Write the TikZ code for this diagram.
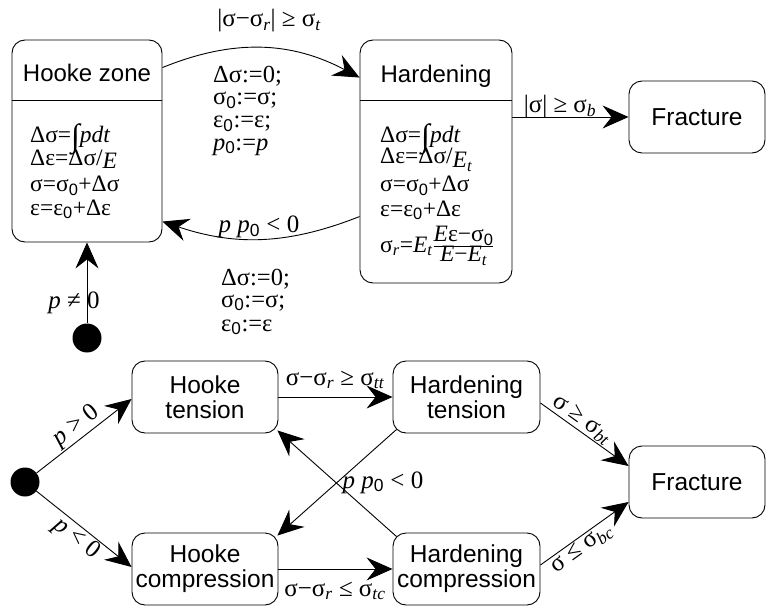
\documentclass[tikz,border=0pt]{standalone}
\usepackage{fontspec}
\setmainfont{Liberation Sans}
\newfontfamily\tm{Liberation Serif}
\usetikzlibrary{arrows.meta,calc}
\newcommand\zr{\textsubscript{\normalfont 0}}
\newcommand\isb[1]{\textsubscript{\itshape #1}}
\newcommand\bigint{\raisebox{-4pt}{\fontsize{32}{32}\selectfont∫}}
\tikzset{
  box/.style={draw, line width=0.9pt, rounded corners=13pt, align=center, inner sep=0pt,
    font=\fontsize{24.5}{25}\selectfont},
  ttl/.style={font=\fontsize{24}{25}\selectfont, inner sep=0pt},
  arr/.style={-{Stealth[length=26pt,width=23pt,inset=9pt]}, line width=0.9pt},
  lbl/.style={font=\tm\fontsize{25}{22}\selectfont, inner sep=1pt},
  fml/.style={font=\tm\fontsize{23.5}{22}\selectfont, inner sep=0pt, anchor=base west},
  act/.style={fml, font=\tm\fontsize{24.5}{22}\selectfont},
  initdot/.style={circle, fill=black, minimum size=29pt, inner sep=0pt},
}
\begin{document}
\begin{tikzpicture}[x=1pt,y=-1pt]
\useasboundingbox (0,0) rectangle (766,607);
% ---------- top diagram ----------
\node[box, minimum width=150pt, minimum height=202pt] (hz) at (87,141) {};
\node[ttl] (hzt) at (87,73) {Hooke zone};
\draw[line width=0.9pt] (hz.west |- 0,100) -- (hz.east |- 0,100);
\node[fml] (hz1) at (30,143) {Δσ=\bigint\textit{pdt}};
\node[fml] (hz2) at (30,165) {Δε=Δσ/\raisebox{-4pt}{\textit{E}}};
\node[fml] (hz3) at (30,192) {σ=σ\zr+Δσ};
\node[fml] (hz4) at (30,215) {ε=ε\zr+Δε};

\node[box, minimum width=152pt, minimum height=243pt] (hd) at (436,161.5) {};
\node[ttl] (hdt) at (436,76) {Hardening};
\draw[line width=0.9pt] (hd.west |- 0,100) -- (hd.east |- 0,100);
\node[fml] (hd1) at (380,143) {Δσ=\bigint\textit{pdt}};
\node[fml] (hd2) at (380,164) {Δε=Δσ/\raisebox{-4pt}{\textit{E}\isb{t}}};
\node[fml] (hd3) at (380,192) {σ=σ\zr+Δσ};
\node[fml] (hd4) at (380,216) {ε=ε\zr+Δε};
\node[fml] (hd5) at (380,252) {σ\isb{r}=\textit{E}\isb{t}$\textstyle\frac{\hbox{\textit{E}ε−σ\zr}}{\hbox{\textit{E}−\textit{E}\isb{t}}}$};

\node[box, minimum width=136pt, minimum height=72pt] (fr1) at (697,117) {Fracture};

\node[initdot] (i1) at (87,338) {};

\draw[arr] ($(hz.north east)+(0,28)$) to[bend left=25] ($(hd.north west)+(0,38)$);
\draw[arr] ($(hd.north west)+(0,177)$) to[bend left=20] ($(hz.north east)+(0,182)$);
\draw[arr] (hd.east |- fr1.west) -- (fr1.west);
\draw[arr] (i1) -- (hz.south);

\node[lbl, anchor=base] (l1) at (269,27) {|σ−σ\isb{r}| ≥ σ\isb{t}};
\node[act] (a11) at (213,83) {Δσ:=0;};
\node[act] (a12) at (213,105) {σ\zr:=σ;};
\node[act] (a13) at (213,128) {ε\zr:=ε;};
\node[act] (a14) at (213,150) {\textit{p}\zr:=\textit{p}};
\node[lbl, anchor=base] (l2) at (259,233) {\textit{p p}\zr\ < 0};
\node[act] (a21) at (221,285) {Δσ:=0;};
\node[act] (a22) at (221,307) {σ\zr:=σ;};
\node[act] (a23) at (221,331) {ε\zr:=ε};
\node[lbl, anchor=base] (l3) at (560,113) {|σ| ≥ σ\isb{b}};
\node[lbl, anchor=base] (l4) at (74,308) {\textit{p} ≠ 0};

% ---------- bottom diagram ----------
\node[initdot] (i2) at (25,482) {};
\node[box, minimum width=146pt, minimum height=72pt] (ht) at (205,397) {Hooke\\tension};
\node[box, minimum width=146pt, minimum height=72pt] (hc) at (205,569) {Hooke\\compression};
\node[box, minimum width=147pt, minimum height=72pt] (rt) at (466.5,397) {Hardening\\tension};
\node[box, minimum width=147pt, minimum height=72pt] (rc) at (466.5,569) {Hardening\\compression};
\node[box, minimum width=136pt, minimum height=72pt] (fr2) at (697,482) {Fracture};

\draw[arr] (i2) -- node[lbl, sloped, above] (l5) {\textit{p} > 0} ($(ht.west)+(0,2)$);
\draw[arr] (i2) -- node[lbl, sloped, below] (l6) {\textit{p} < 0} ($(hc.west)+(0,-2)$);
\draw[arr] (ht.east) -- (rt.west);
\draw[arr] (hc.east) -- (rc.west);
\node[lbl, anchor=base] (l7) at (335,385) {σ−σ\isb{r} ≥ σ\isb{tt}};
\node[lbl, anchor=base] (l8) at (335,596) {σ−σ\isb{r} ≤ σ\isb{tc}};
\draw[arr] ($(rt.south west)+(4,-4)$) -- ($(hc.north east)+(-1,3)$);
\draw[arr] ($(rc.north west)+(4,4)$) -- ($(ht.south east)+(-1,-3)$);
\node[lbl, anchor=base] (l9) at (383,488) {\textit{p p}\zr\ < 0};
\draw[arr] ($(rt.east)+(0,6)$) -- node[lbl, sloped, above, pos=0.4] (l10) {σ ≥ σ\isb{bt}} ($(fr2.west)+(0,-16)$);
\draw[arr] ($(rc.east)+(0,-4)$) -- node[lbl, sloped, below, pos=0.4] (l11) {σ ≤ σ\isb{bc}} ($(fr2.west)+(0,20)$);
\end{tikzpicture}
\end{document}
